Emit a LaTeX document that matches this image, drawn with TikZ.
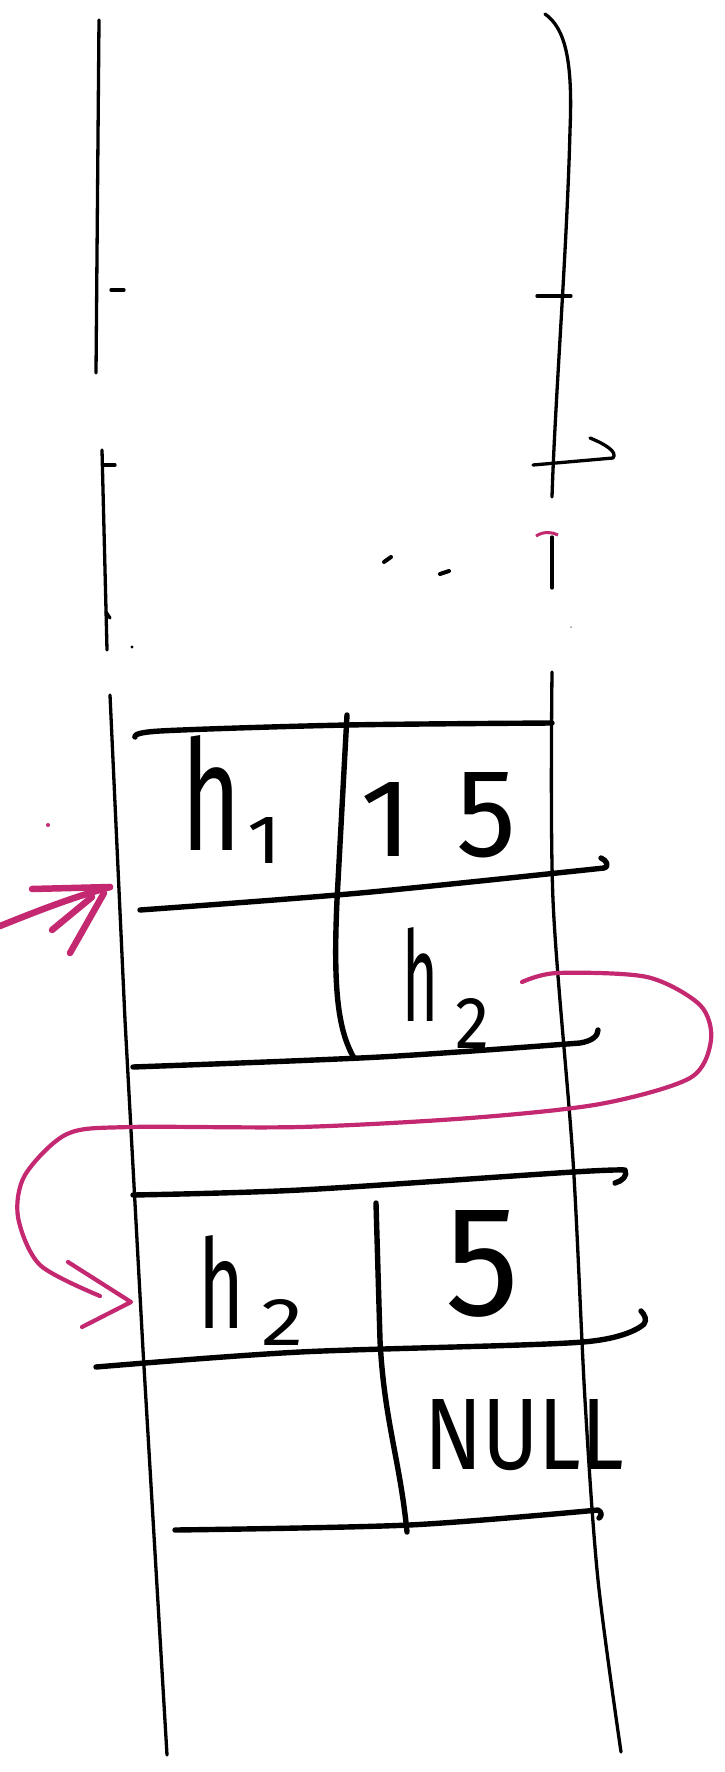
\documentclass[tikz,border=0pt]{standalone}
\usepackage{fontspec}
\usepackage{graphicx}
\IfFontExistsTF{Fira Sans Book}{\newfontfamily\hand{Fira Sans Book}}{\newfontfamily\hand{Fira Sans}}
\definecolor{pk}{RGB}{196,40,112}
\newcommand{\gl}[3]{\resizebox{#1pt}{#2pt}{\fontsize{130}{130}\selectfont #3}}
\tikzset{
  col/.style={line width=3.3pt, line cap=round, line join=round},
  cell/.style={line width=5.4pt, line cap=round, line join=round},
  pinkline/.style={draw=pk, line width=4.2pt, line cap=round, line join=round},
  pinkthick/.style={draw=pk, line width=6.5pt, line cap=round, line join=round},
  lab/.style={anchor=base west, inner sep=0pt, outer sep=0pt, font=\hand},
}
\begin{document}
\begin{tikzpicture}[x=1pt,y=-1pt]
\useasboundingbox (0,0) rectangle (724,1772);
\fill[white] (0,0) rectangle (724,1772);

% ---- left column line ----
\draw[col] (99,20) -- (96,373);
\draw[col] (111,290) -- (124,290);
\draw[col] (102,450) -- (107,650);
\draw[col] (103,465) -- (115,465);
\draw[col] (106,612) -- (110,618);
\fill (132,647) circle (1.7);
\draw[col] (110,695) -- (125,1020) -- (143,1350) -- (167,1755);

% ---- right column line ----
\draw[col] (545,14) .. controls (565,28) and (573,60) .. (570,130) .. controls (567,250) and (555,400) .. (552,497);
\draw[col] (537,296) -- (571,296);
\draw[col] (533,465) -- (613,458) .. controls (618,452) and (605,444) .. (590,438);
\draw[draw=pk, line width=3pt] (536,536) .. controls (544,531) and (552,532) .. (558,535);
\draw[col] (552,537) -- (552,588);
\fill[black!40] (571,627) circle (1);
\draw[col] plot[smooth] coordinates {(552,672) (553,900) (573,1160) (585,1400) (598,1580) (621,1752)};

% small marks
\draw[line width=4pt, line cap=round] (384,562) -- (391,557);
\draw[line width=4pt, line cap=round] (440,574) -- (449,571);
\fill[pk] (48,825) circle (2);

% ---- cell 1 ----
\draw[cell] plot[smooth] coordinates {(135,737) (160,731) (347,725) (552,723)};
\draw[cell] (347,715) -- (337,900) .. controls (333,990) and (338,1030) .. (354,1058);
\draw[cell] plot[smooth] coordinates {(140,910) (360,893) (604,868)} .. controls (610,866) and (606,860) .. (601,858);
\draw[cell] plot[smooth] coordinates {(133,1067) (380,1057) (580,1043)} .. controls (592,1041) and (598,1036) .. (598,1030);

\node[lab] (hone) at (181,850) {\gl{60}{115}{h}\hspace{6pt}\raisebox{-13pt}{\gl{34}{46}{1}}};
\node[lab] (fifteen) at (360,856) {\gl{52}{74}{1}\hspace{44pt}\gl{60}{84}{5}};
\node[lab] (htwoA) at (402,1021) {\gl{36}{94}{h}\hspace{17pt}\raisebox{-27pt}{\gl{34}{50}{2}}};

% ---- cell 2 ----
\draw[cell] plot[smooth] coordinates {(133,1195) (300,1190) (573,1172) (625,1170)} .. controls (628,1176) and (622,1181) .. (615,1183);
\draw[cell] (376,1203) -- (380,1340) .. controls (384,1420) and (400,1460) .. (407,1532);
\draw[cell] plot[smooth] coordinates {(96,1367) (300,1352) (583,1342) (644,1324)} .. controls (647,1320) and (645,1315) .. (641,1311);
\draw[cell] plot[smooth] coordinates {(175,1530) (409,1525) (598,1510)} .. controls (602,1512) and (602,1516) .. (599,1518);

\node[lab] (htwoB) at (198,1328) {\gl{46}{93}{h}\hspace{17pt}\raisebox{-17pt}{\gl{42}{46}{2}}};
\node[lab] (five) at (445,1315) {\gl{74}{105}{5}};
\node[lab] (null) at (424,1469) {\gl{200}{70}{NULL}};

% ---- pink pointer from h2 to the second cell ----
\coordinate (pstart) at (522,982);
\coordinate (ptip) at (131,1302);
\draw[pinkline] plot[smooth] coordinates {(pstart) (557,973) (647,977) (700,1005) (711,1040) (690,1078) (600,1104) (470,1118) (300,1127) (130,1127) (67,1134) (25,1175) (18,1217) (40,1265) (100,1296)};
\draw[pinkline] (68,1262) -- (ptip) -- (82,1327);

% ---- pink arrow into the first cell ----
\coordinate (aintip) at (110,887);
\draw[pinkthick] (0,926) .. controls (35,912) and (70,898) .. (aintip);
\draw[pinkthick] (32,889) -- (aintip);
\draw[pinkthick] (52,930) -- (92,897);
\draw[pinkthick] (70,953) -- (104,893);
\end{tikzpicture}
\end{document}
